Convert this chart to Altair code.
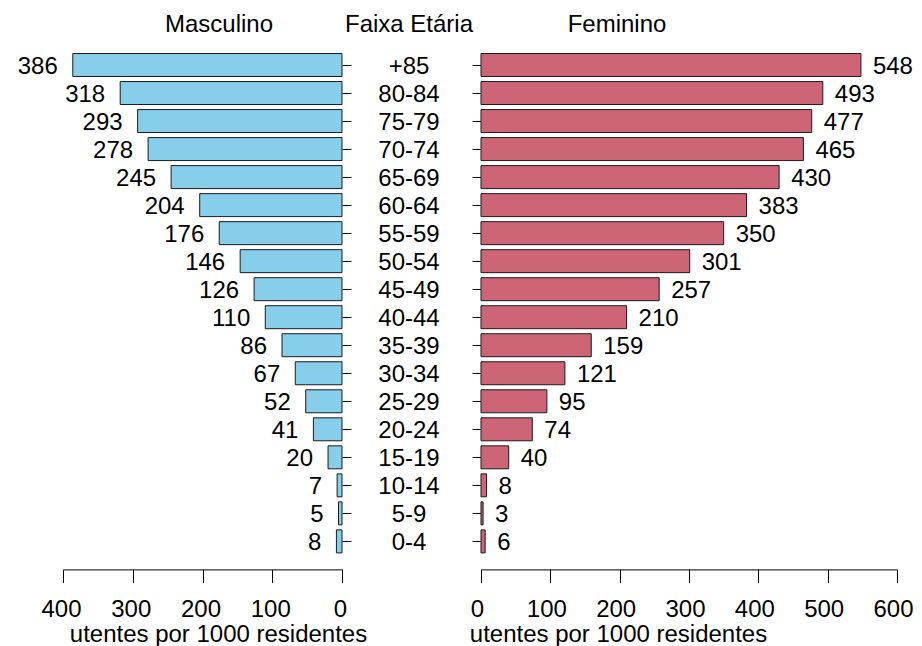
import altair as alt
import pandas as pd

groups = ["+85", "80-84", "75-79", "70-74", "65-69", "60-64", "55-59", "50-54",
          "45-49", "40-44", "35-39", "30-34", "25-29", "20-24", "15-19", "10-14",
          "5-9", "0-4"]
male = [386, 318, 293, 278, 245, 204, 176, 146, 126, 110, 86, 67, 52, 41, 20, 7, 5, 8]
female = [548, 493, 477, 465, 430, 383, 350, 301, 257, 210, 159, 121, 95, 74, 40, 8, 3, 6]
left_ticks = [0, 100, 200, 300, 400]
right_ticks = [0, 100, 200, 300, 400, 500, 600]

df = pd.DataFrame({"grupo": groups, "masc": male, "fem": female})

FONT = "Liberation Sans"
FS = 24
H = 504.4
yscale = alt.Scale(domain=groups, paddingInner=0.18, paddingOuter=0.09)

def title(text, dx):
    return alt.TitleParams(text=text, anchor="middle", frame="group", dx=dx, dy=4.6,
                           fontSize=FS, fontWeight="normal", font=FONT,
                           color="#000", baseline="alphabetic", offset=0)

def xaxis(vals, tx, loff):
    return alt.Axis(values=vals, grid=False, offset=14, tickSize=13,
                    tickColor="#000", domainColor="#000", tickWidth=1, domainWidth=1,
                    labelFont=FONT, labelFontSize=FS, labelColor="#000",
                    labelBaseline="alphabetic", labelPadding=34, labelFlush=False,
                    labelOffset=loff,
                    title="utentes por 1000 residentes", titleFont=FONT,
                    titleFontSize=FS, titleFontWeight="normal", titleColor="#000",
                    titleX=tx, titleY=72, titleBaseline="alphabetic",
                    titleAnchor="middle", titleAlign="center")

def yaxis(orient):
    return alt.Axis(orient=orient, domain=False, labels=False, ticks=True,
                    tickSize=9, tickColor="#000", tickWidth=1, grid=False, title=None)

base_l = alt.Chart(df)
left_bars = base_l.mark_bar(fill="#87CEEB", stroke="#1a1a1a", strokeWidth=1).encode(
    x=alt.X("masc:Q", scale=alt.Scale(domain=[0, 400], reverse=True, nice=False),
            axis=xaxis(left_ticks, 155, -2)),
    y=alt.Y("grupo:N", sort=groups, scale=yscale, axis=yaxis("right")),
)
left_text = base_l.mark_text(align="right", baseline="alphabetic", dx=-15, dy=8.5,
                             font=FONT, fontSize=FS, color="#000").encode(
    x="masc:Q", y=alt.Y("grupo:N", sort=groups), text="masc:Q")
left = alt.layer(left_bars, left_text).properties(
    width=279, height=H, title=title("Masculino", 16.5))

center = alt.Chart(df).mark_text(align="center", baseline="alphabetic", dy=8.5,
                                 font=FONT, fontSize=FS, color="#000").encode(
    x=alt.value(67),
    y=alt.Y("grupo:N", sort=groups, scale=yscale, axis=None),
    text="grupo:N",
).properties(width=139, height=H, title=title("Faixa Etária", -2.5))

base_r = alt.Chart(df)
right_bars = base_r.mark_bar(fill="#CC6677", stroke="#1a1a1a", strokeWidth=1).encode(
    x=alt.X("fem:Q", scale=alt.Scale(domain=[0, 600], nice=False),
            axis=xaxis(right_ticks, 137, -4)),
    y=alt.Y("grupo:N", sort=groups, scale=yscale, axis=yaxis("left")),
)
right_text = base_r.mark_text(align="left", baseline="alphabetic", dx=12, dy=8.5,
                              font=FONT, fontSize=FS, color="#000").encode(
    x="fem:Q", y=alt.Y("grupo:N", sort=groups), text="fem:Q")
right = alt.layer(right_bars, right_text).properties(
    width=416, height=H, title=title("Feminino", -72))

chart = alt.hconcat(left, center, right, spacing=0, bounds="flush").properties(
    padding={"left": 9, "top": 4, "right": -1, "bottom": 0}
).configure(font=FONT).configure_view(strokeWidth=0, stroke=None)

chart.save("out.html", embed_options={"renderer": "svg", "actions": False})
